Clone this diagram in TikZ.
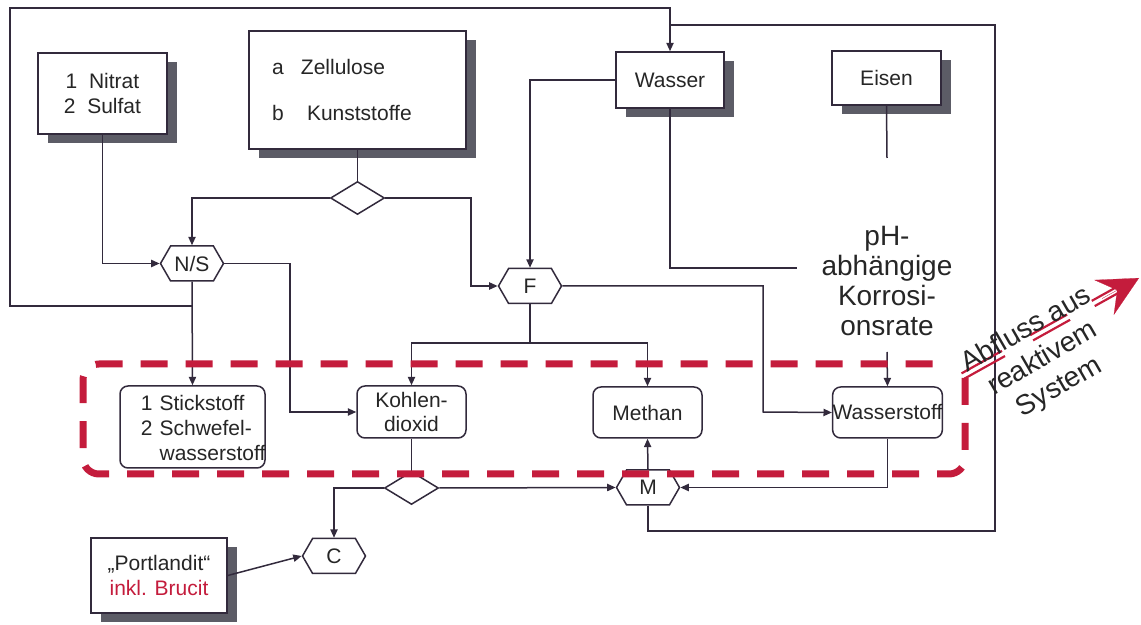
\documentclass[tikz,border=0pt]{standalone}
\usepackage{fontspec}
\setmainfont{Liberation Sans}
\usetikzlibrary{arrows.meta,shapes.geometric,shapes.symbols,shadows,calc}
\definecolor{linegray}{RGB}{50,42,60}
\definecolor{shadegray}{RGB}{92,92,102}
\definecolor{sysred}{RGB}{196,28,60}

\begin{document}
\begin{tikzpicture}[x=0.5pt, y=-0.5pt, line width=0.75pt, >={Triangle[length=4.2pt,width=3.6pt]},
  every node/.style={font=\fontsize{10.5}{12.2}\selectfont, text=black!85},
  src/.style={draw=linegray, fill=white, line width=0.75pt, general shadow={fill=shadegray, shadow xshift=5pt, shadow yshift=-4.5pt}, align=center, inner sep=0pt},
  pool/.style={draw=linegray, fill=white, line width=0.75pt, rounded corners=4pt, align=center, inner sep=0pt},
  hexa/.style={draw=linegray, fill=white, signal, signal to=east and west, signal pointer angle=120, minimum width=31.5pt, minimum height=17.5pt, inner sep=1pt},
  split/.style={draw=linegray, fill=white, diamond, minimum width=27pt, minimum height=16.5pt, inner sep=0pt},
  wire/.style={draw=linegray},
  arr/.style={->, draw=linegray}]
\useasboundingbox (0,0) rectangle (1141,625);
% sources
\node[src, minimum width=64.5pt, minimum height=40.5pt] (nitrat) at (102.5,93.5) {1~~Nitrat\\2~~Sulfat};
\node[src, minimum width=108.5pt, minimum height=59pt, text width=85.5pt, align=left, inner xsep=11.5pt, font=\fontsize{10.5}{23.5}\selectfont] (zell) at (357.5,90) {\makebox[1.38em][l]{a}Zellulose\\\makebox[1.67em][l]{b}Kunststoffe};
\node[src, minimum width=54pt, minimum height=28pt] (wasser) at (670,80) {Wasser};
\node[src, minimum width=54.5pt, minimum height=27pt] (eisen) at (886.5,78) {Eisen};
\node[src, minimum width=68pt, minimum height=37.5pt] (port) at (159,575.5) {„Portlandit“\\\textcolor{sysred}{inkl. Brucit}};
% reactions
\node[split] (dia1) at (357.5,198) {};
\node[split] (dia2) at (411.5,488) {};
\node[hexa] (ns) at (192,263.5) {N/S};
\node[hexa] (f) at (530,286) {F};
\node[hexa] (m) at (648,487.5) {M};
\node[hexa] (c) at (334,556) {C};
\node[font=\fontsize{14}{15}\selectfont, align=center] (ph) at (887,281) {pH-\\abhängige\\Korrosi-\\onsrate};
% gases
\node[pool, minimum width=72.5pt, minimum height=41pt] (stick) at (192.5,427) {};
\node[anchor=west, align=left, inner sep=0pt, font=\fontsize{10.5}{12.5}\selectfont] (sticklbl) at (140,428) {\makebox[0.9em][l]{1}Stickstoff\\\makebox[0.9em][l]{2}Schwefel-\\\hspace*{0.9em}wasserstoff};
\node[pool, minimum width=54.5pt, minimum height=26pt] (co2) at (411.5,412) {Kohlen-\\dioxid};
\node[pool, minimum width=54.5pt, minimum height=25.5pt] (methan) at (647.5,412.5) {Methan};
\node[pool, minimum width=54.5pt, minimum height=25.5pt] (h2) at (887.5,412.5) {Wasserstoff};
\coordinate (nsjoin) at (192,306);
\coordinate (fsplit) at (530,343);
\coordinate (wend) at (797,268);
\coordinate (eisenend) at (887,158);
\coordinate (phend) at (887,352);
\coordinate (wjoin) at (670,25);
% flows
\draw[arr] (nitrat.south) |- (ns.west);
\draw[wire] (zell.south) -- (dia1.north);
\draw[arr] (dia1.west) -| (ns.north);
\draw[arr] (dia1.east) -| (471,286) -- (f.west);
\draw[arr] (ns.east) -| (290,412) -- (co2.west);
\draw[arr] (ns.south) -- (stick.north);
\draw[arr] (nsjoin) -- (10,306) -- (10,8) -| (wasser.north);
\draw[arr] (wasser.west) -| (f.north);
\draw[wire] (wasser.south) |- (wend);
\draw[wire] (eisen.south) -- (eisenend);
\draw[wire] (f.south) -- (fsplit);
\draw[arr] (fsplit) -| (co2.north);
\draw[arr] (fsplit) -| (methan.north);
\draw[arr] (f.east) -| (763,412) -- (h2.west);
\draw[arr] (phend) -- (h2.north);
\draw[wire] (co2.south) -- (dia2.north);
\draw[arr] (dia2.east) -- (m.west);
\draw[arr] (dia2.west) -| (c.north);
\draw[arr] (h2.south) |- (m.east);
\draw[arr] (m.north) -- (methan.south);
\draw[wire] (m.south) |- (995,531) -- (995,25) -- (wjoin);
\draw[arr] (port.east) -- (c.west);
% reactive system
\draw[sysred, line width=3.5pt, dash pattern=on 13.5pt off 9pt, rounded corners=8pt] (965,378) -- (965,474) -- (83,474) -- (83,364) -- (948,364);
\coordinate (outS) at (963,376);
\coordinate (outT) at (1139,278);
\foreach \sh in {{(0.75pt,-1.3pt)},{(-0.75pt,1.3pt)}}{
  \draw[sysred, line width=1.1pt, transform canvas={shift=\sh}] (outS) -- ($(outS)!0.23!(outT)$) ($(outS)!0.39!(outT)$) -- ($(outS)!0.6!(outT)$) ($(outS)!0.74!(outT)$) -- ($(outS)!0.88!(outT)$);
}
\draw[sysred, fill=sysred, line width=0.1pt, -{Stealth[length=20pt,width=20pt,inset=7.5pt]}] ($(outS)!0.79!(outT)$) -- (outT);
\node[rotate=30, align=center, font=\fontsize{14}{16.5}\selectfont] (outlbl) at (1043,359) {Abfluss aus\\reaktivem\\System};
\end{tikzpicture}
\end{document}
